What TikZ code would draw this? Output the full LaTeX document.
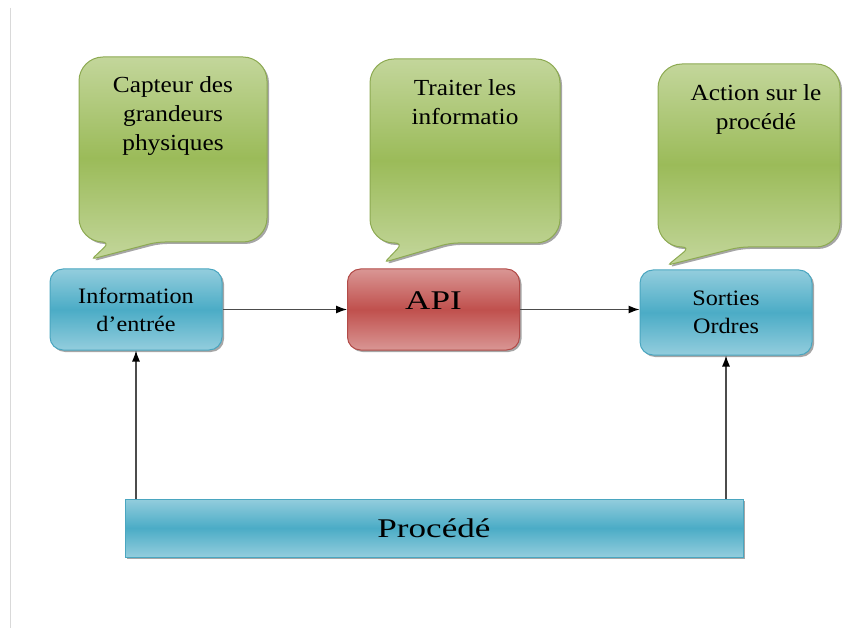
\documentclass[tikz,border=0pt]{standalone}
\usepackage{fontspec}
\setmainfont{Liberation Serif}[FakeStretch=1.1]
\newfontfamily\titre{Liberation Serif}[FakeStretch=1.3]
\usetikzlibrary{shadows,arrows.meta}

\definecolor{vertclair}{HTML}{C3D69B}
\definecolor{vert}{HTML}{9BBB59}
\definecolor{vertbord}{HTML}{8DAA52}
\definecolor{bleuclair}{HTML}{93CDDD}
\definecolor{bleu}{HTML}{4BACC6}
\definecolor{bleubord}{HTML}{4AA6C0}
\definecolor{rougeclair}{HTML}{D99694}
\definecolor{rouge}{HTML}{C0504D}
\definecolor{rougebord}{HTML}{B24B48}

\tikzset{
  ombre/.style={drop shadow={shadow xshift=2pt,shadow yshift=-2pt,fill=black,opacity=.35}},
  bulle/.style={draw=vertbord,line width=1pt,top color=vertclair,bottom color=vertclair,
    middle color=vert,ombre},
  bloc/.style={draw=bleubord,line width=1pt,top color=bleuclair,bottom color=bleuclair,
    middle color=bleu,rounded corners=13pt,minimum width=172pt,minimum height=81pt,
    inner sep=0pt,align=center,font=\fontsize{22}{28}\selectfont,ombre},
  rouge/.style={bloc,draw=rougebord,top color=rougeclair,bottom color=rougeclair,middle color=rouge},
  texte/.style={anchor=north,inner sep=0pt,align=center,font=\fontsize{23}{29}\selectfont},
  fleche/.style={draw=black!70,line width=1.2pt,-{Latex[length=11pt,width=8pt,black]}}
}

\begin{document}
\begin{tikzpicture}[x=1pt,y=-1pt]
\useasboundingbox (0,0) rectangle (843,628);
\def\bulle(#1,#2,#3,#4,#5,#6,#7,#8){
  \path[bulle] ({(#1+#3)/2},#2) [rounded corners=24pt] -- (#3,#2) -- (#3,#4)
    [rounded corners=8pt] -- (#6,#4) [rounded corners=3pt] -- (#7,#8)
    [rounded corners=8pt] -- (#5,#4) [rounded corners=24pt] -- (#1,#4) -- (#1,#2) -- cycle;
}
% page edge
\draw[black!15,line width=1pt] (10,8) -- (10,628);

% bulles
\bulle(79,57,267,242,110,157,92,259)
\bulle(370,59,560,243,403,450,385,262)
\bulle(658,64,840,247,690,740,668,265)
\node[texte] (capteur) at (173,76) {Capteur des\\grandeurs\\physiques};
\node[texte] (traiter) at (465,79) {Traiter les\\informatio};
\node[texte] (action) at (756,84) {Action sur le\\procédé};

% blocs
\node[bloc] (info) at (136,309.5) {Information\\d’entrée};
\node[rouge,font=\titre\fontsize{27}{30}\selectfont,text depth=18pt] (api) at (433.5,309.5) {API};
\node[bloc,minimum height=85pt] (sorties) at (726,312.5) {Sorties\\Ordres};
\node[bloc,rounded corners=0pt,minimum width=618pt,minimum height=58pt,
  font=\titre\fontsize{27}{30}\selectfont] (procede) at (434,528) {Procédé};

% liaisons
\draw[fleche] (info.east) -- (api.west);
\draw[fleche] (api.east) -- (api.east -| sorties.west);
\draw[fleche] (procede.north -| info.south) -- (info.south);
\draw[fleche] (procede.north -| sorties.south) -- (sorties.south);
\end{tikzpicture}
\end{document}
